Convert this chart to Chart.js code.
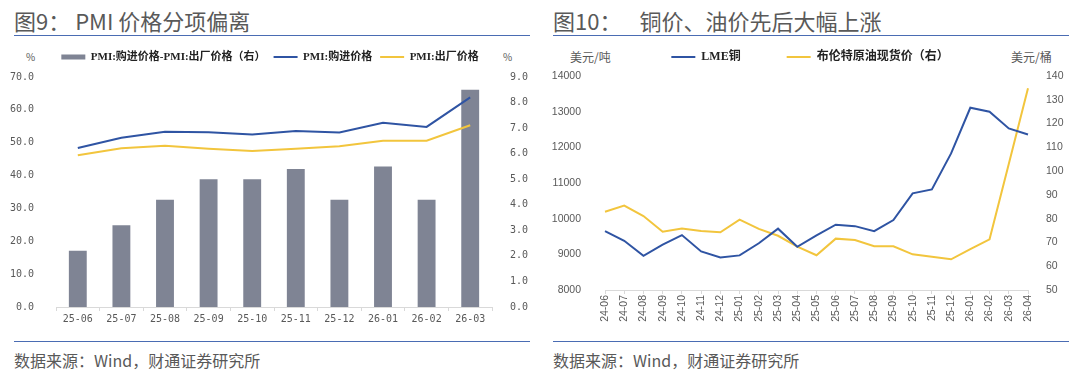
<!DOCTYPE html>
<html>
<head>
<meta charset="utf-8">
<script src="https://cdn.jsdelivr.net/npm/chart.js@4.4.1/dist/chart.umd.min.js"></script>
<style>
    body { margin: 0; width: 1080px; height: 374px; background: #fff; position: relative; overflow: hidden; font-family: 'Noto Sans CJK SC', sans-serif; }
    .title { position: absolute; top: 8px; font-size: 22px; line-height: 24px; color: #595959; white-space: pre; }
    .rule { position: absolute; height: 1px; background: #4a6cb3; }
    .src { position: absolute; top: 350px; font-size: 16px; line-height: 20px; color: #595959; }
    .unit { position: absolute; top: 50px; font-size: 12px; line-height: 14px; color: #595959; }
    .box { position: absolute; top: 40px; width: 540px; height: 295px; }
</style>
</head>
<body>
<div class="title" style="left:14px">图9： PMI 价格分项偏离</div>
<div class="title" style="left:553px">图10：<span style="margin-left:18px">铜价、油价先后大幅上涨</span></div>
<div class="rule" style="left:14px;width:516px;top:35px"></div>
<div class="rule" style="left:553px;width:516px;top:35px"></div>

<div class="unit" style="left:26px;font-size:10px">%</div>
<div class="unit" style="left:503px;font-size:10px">%</div>
<div class="unit" style="left:570px">美元/吨</div>
<div class="unit" style="left:1011px">美元/桶</div>

<div class="box" style="left:0"><canvas id="pmiChart" width="540" height="295"></canvas></div>
<div class="box" style="left:540px"><canvas id="priceChart" width="540" height="295"></canvas></div>

<div class="rule" style="left:14px;width:516px;top:341px"></div>
<div class="rule" style="left:553px;width:516px;top:341px"></div>
<div class="src" style="left:14px">数据来源：Wind，财通证券研究所</div>
<div class="src" style="left:553px">数据来源：Wind，财通证券研究所</div>

<script>
// 图9 PMI 数据
var pmiMonths = ['25-06', '25-07', '25-08', '25-09', '25-10', '25-11', '25-12', '26-01', '26-02', '26-03'];
var pmiInput = [48.4, 51.5, 53.3, 53.2, 52.5, 53.6, 53.1, 56.1, 54.8, 63.8];
var pmiOutput = [46.2, 48.3, 49.1, 48.2, 47.5, 48.2, 48.9, 50.6, 50.6, 55.3];
var pmiGap = [2.2, 3.2, 4.2, 5.0, 5.0, 5.4, 4.2, 5.5, 4.2, 8.5];

// 图10 铜价、油价
var priceMonths = ['24-06', '24-07', '24-08', '24-09', '24-10', '24-11', '24-12',
    '25-01', '25-02', '25-03', '25-04', '25-05', '25-06', '25-07', '25-08', '25-09', '25-10', '25-11', '25-12',
    '26-01', '26-02', '26-03', '26-04'];
var lmeCopper = [9650, 9380, 8960, 9270, 9540, 9080, 8910, 8970, 9310, 9720, 9210, 9530,
    9830, 9790, 9650, 9960, 10710, 10820, 11830, 13110, 13000, 12530, 12360];
var brentSpot = [82.9, 85.5, 81.1, 74.5, 75.9, 74.8, 74.3, 79.6, 75.7, 72.8, 68.2, 64.6,
    71.6, 71.0, 68.4, 68.4, 65.0, 64.0, 62.9, 67.2, 71.3, 103.0, 134.8];

var BLUE = '#2f54a3';
var YELLOW = '#f2c53d';
var GREY = '#7f8494';
var TICK = '#595959';
var AXIS = '#d9d9d9';

// legend box: rect for bars, short line for lines
function legendLabels(chart) {
    var items = Chart.defaults.plugins.legend.labels.generateLabels(chart);
    items.forEach(function(it) {
        var ds = chart.data.datasets[it.datasetIndex];
        if (ds.type === 'bar') {
            it.pointStyle = 'rect';
            it.lineWidth = 0;
        } else {
            it.pointStyle = 'line';
            it.strokeStyle = ds.borderColor;
            it.lineWidth = 2;
        }
    });
    return items;
}

function legendHeight(h) {
    return {
        id: 'legendHeight',
        beforeInit: function(chart) {
            var fit = chart.legend.fit;
            chart.legend.fit = function() {
                fit.call(this);
                this.height = h;
            };
        }
    };
}

function fixWidth(w) { return function(s) { s.width = w; }; }
function fixHeight(h) { return function(s) { s.height = h; }; }

new Chart(document.getElementById('pmiChart').getContext('2d'), {
    data: {
        labels: pmiMonths,
        datasets: [{
            type: 'bar',
            label: 'PMI:购进价格-PMI:出厂价格（右）',
            data: pmiGap,
            backgroundColor: GREY,
            barPercentage: 0.41,
            categoryPercentage: 1,
            yAxisID: 'y1',
            order: 1
        }, {
            type: 'line',
            label: 'PMI:购进价格',
            data: pmiInput,
            borderColor: BLUE,
            borderWidth: 2,
            pointRadius: 0,
            yAxisID: 'y',
            order: 0
        }, {
            type: 'line',
            label: 'PMI:出厂价格',
            data: pmiOutput,
            borderColor: YELLOW,
            borderWidth: 2,
            pointRadius: 0,
            yAxisID: 'y',
            order: 0
        }]
    },
    options: {
        responsive: false,
        animation: false,
        devicePixelRatio: 1,
        layout: { padding: { left: 0, right: 0, top: 3.5, bottom: 0 } },
        plugins: {
            tooltip: { enabled: false },
            legend: {
                position: 'top',
                labels: {
                    usePointStyle: true,
                    pointStyleWidth: 24,
                    boxHeight: 5,
                    padding: 8,
                    color: '#222',
                    font: { family: "'Liberation Serif', 'Noto Sans CJK SC'", size: 11, weight: 'bold' },
                    generateLabels: legendLabels,
                    sort: function(a, b) { return a.datasetIndex - b.datasetIndex; }
                }
            }
        },
        scales: {
            x: {
                offset: true,
                grid: { display: true, drawOnChartArea: false, offset: true, tickLength: 4, color: AXIS },
                border: { color: AXIS },
                ticks: { color: TICK, padding: 2, font: { family: "'DejaVu Sans Mono'", size: 10 } },
                afterFit: fixHeight(28)
            },
            y: {
                position: 'left',
                min: 0, max: 70,
                grid: { display: false },
                border: { display: false },
                ticks: { stepSize: 10, padding: 14, color: TICK, font: { family: "'DejaVu Sans Mono'", size: 10 },
                    callback: function(v) { return v.toFixed(1); } },
                afterFit: fixWidth(56)
            },
            y1: {
                position: 'right',
                min: 0, max: 9,
                grid: { display: false },
                border: { display: false },
                ticks: { stepSize: 1, padding: 10, color: TICK, font: { family: "'DejaVu Sans Mono'", size: 10 },
                    callback: function(v) { return v.toFixed(1); } },
                afterFit: fixWidth(48)
            }
        }
    },
    plugins: [legendHeight(33.5)]
});

new Chart(document.getElementById('priceChart').getContext('2d'), {
    type: 'line',
    data: {
        labels: priceMonths,
        datasets: [{
            label: 'LME铜',
            data: lmeCopper,
            borderColor: BLUE,
            borderWidth: 2,
            pointRadius: 0,
            yAxisID: 'y'
        }, {
            label: '布伦特原油现货价（右）',
            data: brentSpot,
            borderColor: YELLOW,
            borderWidth: 2,
            pointRadius: 0,
            yAxisID: 'y1'
        }]
    },
    options: {
        responsive: false,
        animation: false,
        devicePixelRatio: 1,
        layout: { padding: { left: 0, right: 0, top: -35, bottom: 0 } },
        plugins: {
            tooltip: { enabled: false },
            legend: {
                position: 'top',
                labels: {
                    usePointStyle: true,
                    pointStyleWidth: 24,
                    boxHeight: 5,
                    padding: 46,
                    color: '#222',
                    font: { family: "'Liberation Serif', 'Noto Sans CJK SC'", size: 12, weight: 'bold' },
                    generateLabels: legendLabels
                }
            }
        },
        scales: {
            x: {
                offset: false,
                grid: { display: true, drawOnChartArea: false, tickLength: 4, color: AXIS },
                border: { color: AXIS },
                ticks: { autoSkip: false, minRotation: 90, maxRotation: 90, padding: 1, color: TICK,
                    font: { family: "'Liberation Sans'", size: 10.5 } },
                afterFit: fixHeight(45)
            },
            y: {
                position: 'left',
                min: 8000, max: 14000,
                grid: { display: false },
                border: { display: false },
                ticks: { stepSize: 1000, padding: 16, color: TICK, font: { family: "'Liberation Sans'", size: 10.5 },
                    callback: function(v) { return String(v); } },
                afterFit: fixWidth(65)
            },
            y1: {
                position: 'right',
                min: 50, max: 140,
                grid: { display: false },
                border: { display: false },
                ticks: { stepSize: 10, padding: 10, color: TICK, font: { family: "'Liberation Sans'", size: 10.5 },
                    callback: function(v) { return String(v); } },
                afterFit: fixWidth(52)
            }
        }
    },
    plugins: [legendHeight(71)]
});
</script>
</body>
</html>
